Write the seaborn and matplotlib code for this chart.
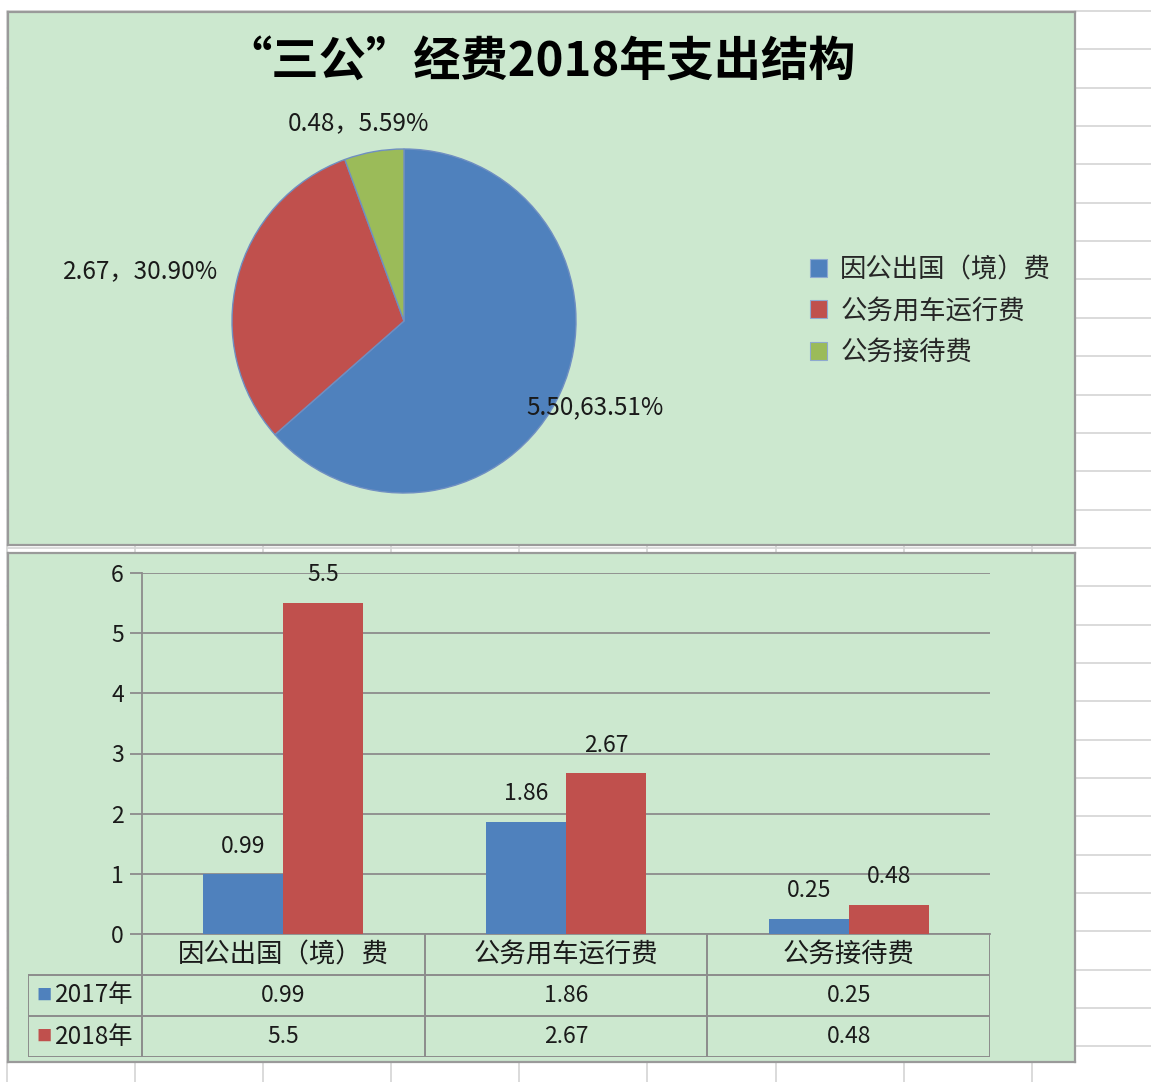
import numpy as np
import pandas as pd
import matplotlib
matplotlib.use("Agg")
import matplotlib.pyplot as plt
from matplotlib.patches import Patch
import seaborn as sns

# ---------------- data ----------------
title = "“三公”经费2018年支出结构"
categories = ["因公出国（境）费", "公务用车运行费", "公务接待费"]
pie_percent = [63.51, 30.90, 5.59]
pie_labels = ["5.50,63.51%", "2.67，30.90%", "0.48，5.59%"]
years = ["2017年", "2018年"]
values_2017 = [0.99, 1.86, 0.25]
values_2018 = [5.5, 2.67, 0.48]
y_ticks = [0, 1, 2, 3, 4, 5, 6]

# ---------------- style ----------------
C_BLUE = "#4F81BD"
C_RED = "#C0504D"
C_GREEN = "#9BBB59"
PANEL = "#CCE8CF"
GRAY = "#8C8C8C"
SHEET = "#D4D4D4"

sns.set_style("white")
plt.rcParams["font.family"] = ["Noto Sans CJK SC", "DejaVu Sans"]

W, H = 1151, 1082
fig = plt.figure(figsize=(W / 100, H / 100), dpi=100)
fig.patch.set_facecolor("white")


def rect(x0, y0, x1, y1):
    return [x0 / W, 1 - y1 / H, (x1 - x0) / W, (y1 - y0) / H]


# spreadsheet grid in the background
ax_bg = fig.add_axes([0, 0, 1, 1], zorder=0)
ax_bg.set_xlim(0, W)
ax_bg.set_ylim(H, 0)
ax_bg.axis("off")
for yy in np.arange(11, H, 38.35):
    ax_bg.plot([7, W], [yy, yy], color=SHEET, lw=1.2)
for xx in np.arange(7, W, 128.1):
    ax_bg.plot([xx, xx], [12, H], color=SHEET, lw=1.2)


def panel(r):
    ax = fig.add_axes(r, zorder=1)
    ax.set_facecolor(PANEL)
    ax.set_xticks([])
    ax.set_yticks([])
    for s in ax.spines.values():
        s.set_color("#9A9A9A")
        s.set_linewidth(1.6)
    return ax


# ---------------- top panel: pie ----------------
top = panel(rect(8, 12, 1075, 545))
fig.text(540 / W, 1 - 63 / H, title, ha="center", va="center",
         fontsize=34, fontweight="bold", color="black")

axp = fig.add_axes(rect(232, 149, 576, 493), zorder=2)
axp.set_facecolor("none")
wedges, _ = axp.pie(pie_percent, colors=[C_BLUE, C_RED, C_GREEN],
                    startangle=90, counterclock=False,
                    wedgeprops=dict(edgecolor="#6F8FC2", linewidth=1.0))
axp.set_xlim(-1, 1)
axp.set_ylim(-1, 1)
axp.set_aspect("equal")
axp.axis("off")

label_dist = [1.22, 1.56, 1.18]
label_nudge = [0.0, 3.5, 3.0]
for w, lab, d, nd in zip(wedges, pie_labels, label_dist, label_nudge):
    ang = np.deg2rad((w.theta1 + w.theta2) / 2 + nd)
    axp.text(d * np.cos(ang), d * np.sin(ang), lab, ha="center", va="center",
             fontsize=17.5, color="#1a1a1a", clip_on=False)

handles = [Patch(facecolor=c, edgecolor="#8EA9D0", linewidth=0.8)
           for c in [C_BLUE, C_RED, C_GREEN]]
fig.legend(handles, categories, loc="center left",
           bbox_to_anchor=(810 / W, 1 - 311 / H), frameon=False, fontsize=19,
           handlelength=0.65, handleheight=0.65, handletextpad=0.5,
           labelspacing=0.55, borderpad=0, borderaxespad=0)

# ---------------- bottom panel: bars + data table ----------------
bot = panel(rect(8, 553, 1075, 1062))

df = pd.DataFrame({
    "类别": categories * 2,
    "年份": [years[0]] * 3 + [years[1]] * 3,
    "金额": values_2017 + values_2018,
})

axb = fig.add_axes(rect(142, 573, 990, 934), zorder=2)
axb.set_facecolor("none")
sns.barplot(data=df, x="类别", y="金额", hue="年份", palette=[C_BLUE, C_RED],
            width=0.566, saturation=1, linewidth=0, errorbar=None,
            legend=False, ax=axb, zorder=3)
axb.set_xlim(-0.5, 2.5)
axb.set_ylim(0, 6)
axb.set_yticks(y_ticks)
axb.yaxis.grid(True, color=GRAY, lw=1.3)
axb.xaxis.grid(False)
axb.set_axisbelow(True)
axb.set_xlabel("")
axb.set_ylabel("")
axb.set_xticks([])
for s in ["top", "right"]:
    axb.spines[s].set_visible(False)
for s in ["left", "bottom"]:
    axb.spines[s].set_color(GRAY)
    axb.spines[s].set_linewidth(1.3)
axb.tick_params(axis="y", length=9, width=1.3, color=GRAY, pad=4,
                labelsize=16.5, labelcolor="#1a1a1a", left=True)
for cont in axb.containers:
    axb.bar_label(cont, fmt="{:g}", padding=12, fontsize=16.5, color="#1a1a1a")

# data table under the axis
cat_px = (990 - 142) / 3
axt = fig.add_axes(rect(28, 934, 990, 1057), zorder=2)
axt.set_xlim(-0.5 - (142 - 28) / cat_px, 2.5)
axt.set_ylim(3, 0)
axt.axis("off")
x_left = axt.get_xlim()[0]
lkw = dict(color=GRAY, lw=1.4, solid_capstyle="butt")
for yy in [1, 2, 3]:
    axt.plot([x_left, 2.5], [yy, yy], **lkw)
for xx in [-0.5, 0.5, 1.5, 2.5]:
    axt.plot([xx, xx], [0, 3], **lkw)
axt.plot([x_left, x_left], [1, 3], **lkw)

for i, cat in enumerate(categories):
    axt.text(i, 0.5, cat, ha="center", va="center", fontsize=19, color="#1a1a1a")
rows = [values_2017, values_2018]
for r, (yr, vals, col) in enumerate(zip(years, rows, [C_BLUE, C_RED])):
    yc = 1.5 + r
    axt.text(x_left + 0.03, yc, "■", ha="left", va="center", fontsize=11, color=col)
    axt.text(x_left + 0.095, yc, yr, ha="left", va="center", fontsize=17.5, color="#1a1a1a")
    for i, v in enumerate(vals):
        axt.text(i, yc, f"{v:g}", ha="center", va="center", fontsize=16.5, color="#1a1a1a")

fig.savefig("out.png", dpi=100, facecolor="white")
